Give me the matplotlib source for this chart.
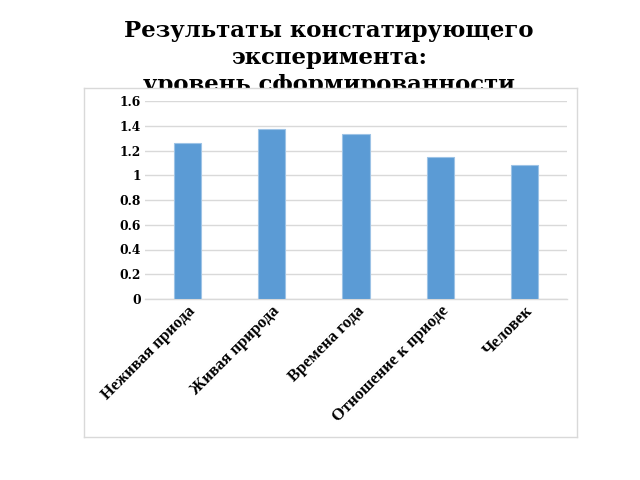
import matplotlib.pyplot as plt
import matplotlib.transforms as mtransforms

categories = ['Неживая приода', 'Живая природа', 'Времена года', 'Отношение к приоде', 'Человек']
values = [1.26, 1.37, 1.33, 1.15, 1.08]
yticks = [0, 0.2, 0.4, 0.6, 0.8, 1, 1.2, 1.4, 1.6]
ytick_labels = ['0', '0.2', '0.4', '0.6', '0.8', '1', '1.2', '1.4', '1.6']
title = 'Результаты констатирующего\nэксперимента:\nуровень сформированности'

fig = plt.figure(figsize=(6.4, 4.8), dpi=100)

# заголовок под рамкой диаграммы (нижняя строка частично закрыта)
fig.text(0.514, 0.958, title, ha='center', va='top', fontsize=16.4, fontweight='bold',
         family='DejaVu Serif', linespacing=1.3, zorder=0)

# рамка области диаграммы
box = fig.add_axes([84 / 640, 1 - 437 / 480, (577 - 84) / 640, (437 - 88) / 480], zorder=1)
box.set_xticks([])
box.set_yticks([])
box.set_facecolor('white')
for s in box.spines.values():
    s.set_color('#d9d9d9')
    s.set_linewidth(1)

ax = fig.add_axes([145 / 640, 1 - 299 / 480, (567 - 145) / 640, (299 - 101) / 480], zorder=2)
ax.patch.set_alpha(0)
x = range(len(categories))
ax.bar(x, values, width=0.32, color='#5b9bd5', edgecolor='#9dc3e6', linewidth=0.8, zorder=3)
ax.set_xlim(-0.5, len(categories) - 0.5)
ax.set_ylim(0, 1.6)
ax.set_yticks(yticks)
ax.set_yticklabels(ytick_labels, fontsize=8.8, fontweight='bold', family='DejaVu Serif')
ax.set_xticks(list(x))
ax.set_xticklabels(categories, rotation=45, ha='right', rotation_mode='anchor',
                   fontsize=12, fontweight='bold', family='Liberation Serif')
# немного сдвинуть подписи влево
offset = mtransforms.ScaledTranslation(-4 / 100, 0, fig.dpi_scale_trans)
for lbl in ax.get_xticklabels():
    lbl.set_transform(lbl.get_transform() + offset)
ax.tick_params(axis='both', length=0, pad=3)
ax.grid(axis='y', color='#d9d9d9', linewidth=1, zorder=0)
for name in ['top', 'right', 'left']:
    ax.spines[name].set_visible(False)
ax.spines['bottom'].set_color('#d9d9d9')
ax.spines['bottom'].set_linewidth(1)

plt.savefig('out.png', dpi=100)
